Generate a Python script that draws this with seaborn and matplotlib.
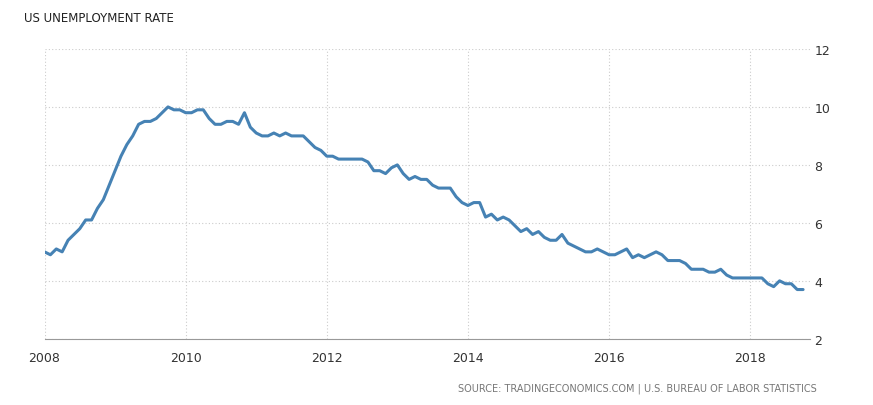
import numpy as np
import pandas as pd
import matplotlib.pyplot as plt
import seaborn as sns

# monthly US unemployment rate, Jan 2008 - Oct 2018
rate_2008 = [5.0, 4.9, 5.1, 5.0, 5.4, 5.6, 5.8, 6.1, 6.1, 6.5, 6.8, 7.3]
rate_2009 = [7.8, 8.3, 8.7, 9.0, 9.4, 9.5, 9.5, 9.6, 9.8, 10.0, 9.9, 9.9]
rate_2010 = [9.8, 9.8, 9.9, 9.9, 9.6, 9.4, 9.4, 9.5, 9.5, 9.4, 9.8, 9.3]
rate_2011 = [9.1, 9.0, 9.0, 9.1, 9.0, 9.1, 9.0, 9.0, 9.0, 8.8, 8.6, 8.5]
rate_2012 = [8.3, 8.3, 8.2, 8.2, 8.2, 8.2, 8.2, 8.1, 7.8, 7.8, 7.7, 7.9]
rate_2013 = [8.0, 7.7, 7.5, 7.6, 7.5, 7.5, 7.3, 7.2, 7.2, 7.2, 6.9, 6.7]
rate_2014 = [6.6, 6.7, 6.7, 6.2, 6.3, 6.1, 6.2, 6.1, 5.9, 5.7, 5.8, 5.6]
rate_2015 = [5.7, 5.5, 5.4, 5.4, 5.6, 5.3, 5.2, 5.1, 5.0, 5.0, 5.1, 5.0]
rate_2016 = [4.9, 4.9, 5.0, 5.1, 4.8, 4.9, 4.8, 4.9, 5.0, 4.9, 4.7, 4.7]
rate_2017 = [4.7, 4.6, 4.4, 4.4, 4.4, 4.3, 4.3, 4.4, 4.2, 4.1, 4.1, 4.1]
rate_2018 = [4.1, 4.1, 4.1, 3.9, 3.8, 4.0, 3.9, 3.9, 3.7, 3.7]

rates = (rate_2008 + rate_2009 + rate_2010 + rate_2011 + rate_2012 + rate_2013
         + rate_2014 + rate_2015 + rate_2016 + rate_2017 + rate_2018)
df = pd.DataFrame({"year": 2008 + np.arange(len(rates)) / 12, "rate": rates})

x_ticks = [2008, 2010, 2012, 2014, 2016, 2018]
y_ticks = [2, 4, 6, 8, 10, 12]

sns.set_style("white")
fig = plt.figure(figsize=(8.73, 4.06), dpi=100)
ax = fig.add_axes([0.051, 0.163, 0.877, 0.714])
sns.lineplot(data=df, x="year", y="rate", ax=ax, color="#4682b4", linewidth=2.2)

ax.set_xlim(2008, 2018.85)
ax.set_ylim(2, 12)
ax.set_xticks(x_ticks)
ax.set_yticks(y_ticks)
ax.yaxis.tick_right()
ax.grid(True, color="#cccccc", linestyle=(0, (1, 2)), linewidth=0.8)
for s in ["top", "left", "right"]:
    ax.spines[s].set_visible(False)
ax.spines["bottom"].set_color("#999999")
ax.tick_params(axis="x", length=5, color="#999999", labelsize=9, labelcolor="#333333")
ax.tick_params(axis="y", length=0, labelsize=9, labelcolor="#333333", pad=3)
ax.set_xlabel("")
ax.set_ylabel("")

fig.text(0.027, 0.945, "US UNEMPLOYMENT RATE", fontsize=8.5, color="#222222")
fig.text(0.935, 0.035, "SOURCE: TRADINGECONOMICS.COM | U.S. BUREAU OF LABOR STATISTICS",
         fontsize=7, color="#777777", ha="right")

fig.savefig("out.png", dpi=100)
